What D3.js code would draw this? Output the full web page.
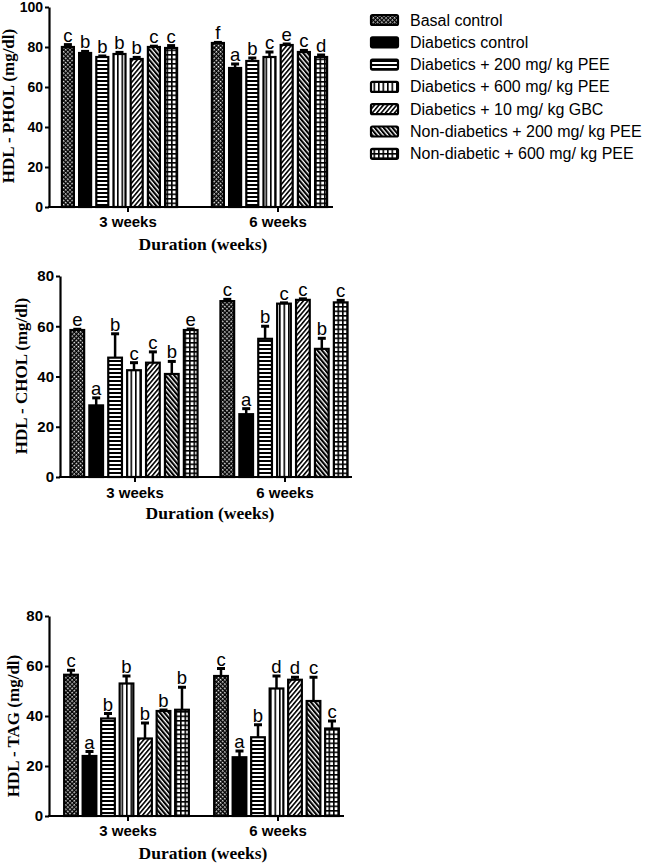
<!DOCTYPE html>
<html><head><meta charset="utf-8">
<script src="https://cdn.jsdelivr.net/npm/d3@7"></script>
<style>body{margin:0;background:#fff}</style>
</head><body>
<svg id="c" width="646" height="863"></svg>
<script>
const groups = ["3 weeks", "6 weeks"];
const series = ["Basal control", "Diabetics control", "Diabetics + 200 mg/ kg PEE",
  "Diabetics + 600 mg/ kg PEE", "Diabetics + 10 mg/ kg GBC",
  "Non-diabetics + 200 mg/ kg PEE", "Non-diabetic + 600 mg/ kg PEE"];

// HDL - PHOL
const phol3w = [80, 77, 75, 76.5, 74, 80, 79.5];
const phol6w = [82, 69.5, 73, 75, 81, 77.5, 75];
const pholErr3w = [1.2, 0.8, 0.5, 0.8, 0.8, 0.4, 1.2];
const pholErr6w = [0.3, 2, 1.5, 2.5, 0.5, 0.8, 1];
const pholLetters3w = ["c", "b", "b", "b", "b", "c", "c"];
const pholLetters6w = ["f", "a", "b", "c", "e", "c", "d"];
const pholTicks = [0, 20, 40, 60, 80, 100];

// HDL - CHOL
const chol3w = [58.5, 28.5, 47.5, 42.5, 45.5, 41, 58.5];
const chol6w = [70, 25, 55, 69, 70.5, 51, 69.5];
const cholErr3w = [0.3, 3, 9.5, 3, 4.3, 5, 0.4];
const cholErr6w = [0.7, 2.2, 5, 0.3, 0.4, 4.2, 0.8];
const cholLetters3w = ["e", "a", "b", "c", "c", "b", "e"];
const cholLetters6w = ["c", "a", "b", "c", "c", "b", "c"];
const cholTicks = [0, 20, 40, 60, 80];

// HDL - TAG
const tag3w = [56.5, 24, 39, 53, 31, 42, 42.5];
const tag6w = [56, 23.5, 31.5, 51, 54.5, 46, 35];
const tagErr3w = [1.8, 1.8, 2, 3, 6.2, 0.4, 9];
const tagErr6w = [3, 2.5, 5, 5, 1, 9.5, 3];
const tagLetters3w = ["c", "a", "b", "b", "b", "b", "b"];
const tagLetters6w = ["c", "a", "b", "d", "d", "c", "c"];
const tagTicks = [0, 20, 40, 60, 80];

const svg = d3.select("#c");
const defs = svg.append("defs");

function pat(id, w, h, transform, draw) {
  const p = defs.append("pattern").attr("id", id).attr("patternUnits", "userSpaceOnUse")
    .attr("width", w).attr("height", h);
  if (transform) p.attr("patternTransform", transform);
  draw(p);
}
pat("p0", 3, 3, "rotate(45)", p => {
  p.append("rect").attr("width", 3).attr("height", 3).attr("fill", "#000");
  p.append("rect").attr("width", 1.5).attr("height", 1.5).attr("fill", "#fff");
});
pat("p2", 4, 4, null, p => {
  p.append("rect").attr("width", 4).attr("height", 4).attr("fill", "#fff");
  p.append("rect").attr("width", 4).attr("height", 2).attr("fill", "#000");
});
pat("p3", 4.5, 4, null, p => {
  p.append("rect").attr("width", 4.5).attr("height", 4).attr("fill", "#fff");
  p.append("rect").attr("width", 1.6).attr("height", 4).attr("fill", "#000");
});
pat("p4", 3.4, 4, "rotate(40)", p => {
  p.append("rect").attr("width", 3.4).attr("height", 4).attr("fill", "#fff");
  p.append("rect").attr("width", 1.6).attr("height", 4).attr("fill", "#000");
});
pat("p5", 3.4, 4, "rotate(-40)", p => {
  p.append("rect").attr("width", 3.4).attr("height", 4).attr("fill", "#fff");
  p.append("rect").attr("width", 2.1).attr("height", 4).attr("fill", "#000");
});
pat("p6", 4.5, 4.5, null, p => {
  p.append("rect").attr("width", 4.5).attr("height", 4.5).attr("fill", "#fff");
  p.append("rect").attr("width", 4.5).attr("height", 1.6).attr("fill", "#000");
  p.append("rect").attr("width", 1.6).attr("height", 4.5).attr("fill", "#000");
});
const fills = ["url(#p0)", "#000", "url(#p2)", "url(#p3)", "url(#p4)", "url(#p5)", "url(#p6)"];

const panels = [
  { v: [phol3w, phol6w], e: [pholErr3w, pholErr6w], l: [pholLetters3w, pholLetters6w],
    ticks: pholTicks, max: 100, title: "HDL - PHOL (mg/dl)", tickFont: 14,
    axisX: 49, xEnd: 333, y0: 207, yTop: 7, g0: 53, step: 17.2, bw: 12, shift: -8.5,
    tickLabelY: 227, titleY: 250, yTitleX: 14, yTitleY: 106 },
  { v: [chol3w, chol6w], e: [cholErr3w, cholErr6w], l: [cholLetters3w, cholLetters6w],
    ticks: cholTicks, max: 80, title: "HDL - CHOL (mg/dl)", tickFont: 15,
    axisX: 60, xEnd: 352, y0: 477, yTop: 276, g0: 60, step: 18.9, bw: 13.7, shift: -1,
    tickLabelY: 498, titleY: 519, yTitleX: 27, yTitleY: 376 },
  { v: [tag3w, tag6w], e: [tagErr3w, tagErr6w], l: [tagLetters3w, tagLetters6w],
    ticks: tagTicks, max: 80, title: "HDL - TAG (mg/dl)", tickFont: 15,
    axisX: 49, xEnd: 344, y0: 816, yTop: 616, g0: 53, step: 18.5, bw: 13.7, shift: -1.5,
    tickLabelY: 836, titleY: 859, yTitleX: 19, yTitleY: 726 }
];

panels.forEach(P => {
  const g = svg.append("g");
  const y = d3.scaleLinear().domain([0, P.max]).range([P.y0, P.yTop]);
  const xg = d3.scaleBand().domain(groups).range([P.g0, P.g0 + 300]);
  const pi = 1 - P.bw / P.step;
  const po = (xg.bandwidth() / P.step - (series.length - pi)) / 2;
  const xb = d3.scaleBand().domain(d3.range(series.length)).range([0, xg.bandwidth()])
    .paddingInner(pi).paddingOuter(po);

  groups.forEach((grp, gi) => {
    series.forEach((s, si) => {
      const v = P.v[gi][si], e = P.e[gi][si];
      const x = xg(grp) + xb(si) + P.shift;
      const cx = x + xb.bandwidth() / 2;
      g.append("line").attr("x1", cx).attr("x2", cx).attr("y1", y(v)).attr("y2", y(v + e))
        .attr("stroke", "#000").attr("stroke-width", 2.5);
      g.append("line").attr("x1", cx - 4).attr("x2", cx + 4).attr("y1", y(v + e)).attr("y2", y(v + e))
        .attr("stroke", "#000").attr("stroke-width", 3);
      g.append("rect").attr("x", x).attr("y", y(v)).attr("width", xb.bandwidth())
        .attr("height", P.y0 - y(v)).attr("fill", fills[si])
        .attr("stroke", "#000").attr("stroke-width", 2.2);
      g.append("text").attr("x", cx).attr("y", y(v + e) - 3).attr("text-anchor", "middle")
        .attr("font-family", "Arial, 'Liberation Sans', sans-serif").attr("font-size", 18.5)
        .text(P.l[gi][si]);
    });
  });

  const ya = g.append("g").attr("transform", `translate(${P.axisX},0)`)
    .call(d3.axisLeft(y).tickValues(P.ticks).tickSize(4).tickSizeOuter(0).tickPadding(2));
  ya.select(".domain").attr("stroke-width", 2.2);
  ya.selectAll(".tick line").attr("stroke-width", 2);
  ya.selectAll(".tick text").attr("font-family", "Arial, 'Liberation Sans', sans-serif")
    .attr("font-size", P.tickFont).attr("font-weight", "bold").attr("fill", "#000");

  const xa = g.append("g").attr("transform", `translate(0,${P.y0})`)
    .call(d3.axisBottom(xg).tickSize(5).tickSizeOuter(0));
  xa.select(".domain").remove();
  xa.selectAll(".tick line").attr("stroke-width", 2);
  xa.selectAll(".tick text").attr("y", P.tickLabelY - P.y0).attr("dy", 0)
    .attr("font-family", "Arial, 'Liberation Sans', sans-serif")
    .attr("font-size", 15).attr("font-weight", "bold").attr("fill", "#000");
  g.append("line").attr("x1", P.axisX - 1).attr("x2", P.xEnd).attr("y1", P.y0).attr("y2", P.y0)
    .attr("stroke", "#000").attr("stroke-width", 2.2);

  g.append("text").attr("x", P.g0 + 150).attr("y", P.titleY)
    .attr("text-anchor", "middle").attr("font-family", "'Liberation Serif', 'Times New Roman', serif")
    .attr("font-weight", "bold").attr("font-size", 17.5).text("Duration (weeks)");
  g.append("text").attr("transform", `translate(${P.yTitleX},${P.yTitleY}) rotate(-90)`)
    .attr("text-anchor", "middle").attr("font-family", "'Liberation Serif', 'Times New Roman', serif")
    .attr("font-weight", "bold").attr("font-size", 17).text(P.title);
});

const leg = svg.append("g");
series.forEach((s, i) => {
  const cy = 20 + i * 22.3;
  leg.append("rect").attr("x", 371).attr("y", cy - 5).attr("width", 27).attr("height", 10)
    .attr("rx", 1.5).attr("fill", fills[i]).attr("stroke", "#000").attr("stroke-width", 2.2);
  leg.append("text").attr("x", 410).attr("y", cy + 5.5)
    .attr("font-family", "Arial, 'Liberation Sans', sans-serif").attr("font-size", 16).text(s);
});
</script>
</body></html>
